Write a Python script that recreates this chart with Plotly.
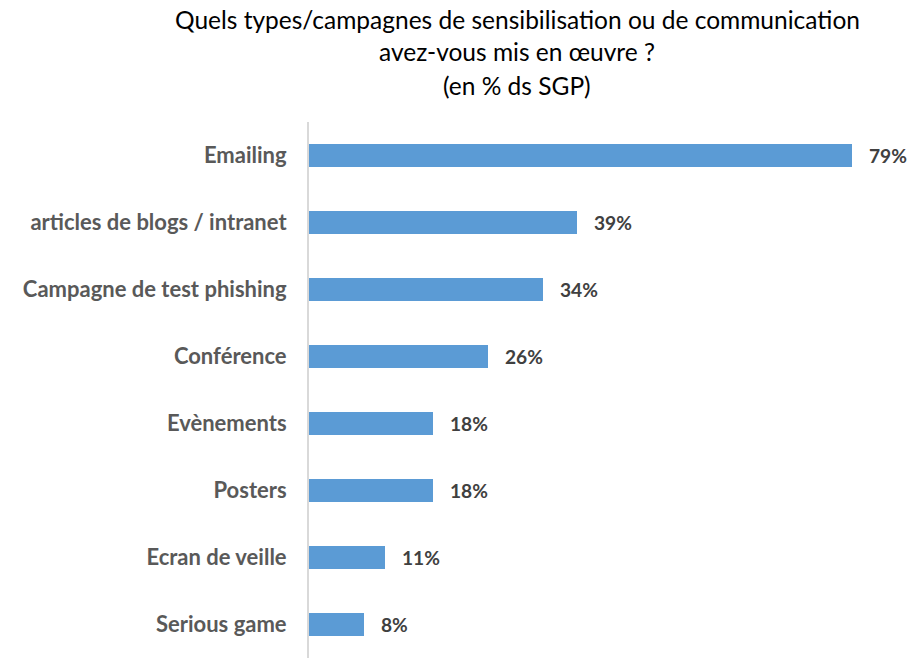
import plotly.graph_objects as go

categories = ["Emailing", "articles de blogs / intranet", "Campagne de test phishing",
              "Conférence", "Evènements", "Posters", "Ecran de veille", "Serious game"]
values = [79, 39, 34, 26, 18, 18, 11, 8]
title_lines = ["Quels types/campagnes de sensibilisation ou de communication",
               "avez-vous mis en œuvre ?",
               "(en % ds SGP)"]

FONT = "Lato"
W, H = 909, 658
L, R, T, B = 309, 9, 122, 0

fig = go.Figure(go.Bar(
    x=values, y=categories, orientation="h",
    marker=dict(color="#5B9BD5", line=dict(width=0)),
    width=0.35,
    texttemplate="\u00a0\u00a0\u00a0%{x}%", textposition="outside",
    textfont=dict(family=FONT, size=20, color="#404040", weight="bold"),
    cliponaxis=False, hoverinfo="skip",
))

fig.update_layout(
    width=W, height=H,
    margin=dict(l=L, r=R, t=T, b=B, pad=0, autoexpand=False),
    paper_bgcolor="white", plot_bgcolor="white",
    showlegend=False,
    bargap=0,
    xaxis=dict(range=[0, (W - L - R) / 6.87], visible=False, fixedrange=True),
    yaxis=dict(autorange="reversed", showline=True, linecolor="#D9D9D9", linewidth=2,
               ticks="", showgrid=False, zeroline=False, fixedrange=True,
               tickfont=dict(family=FONT, size=22, color="#595959", weight="bold"),
               ticklabelstandoff=16),
)

ys = [20, 52, 85]
for line, yy in zip(title_lines, ys):
    fig.add_annotation(text=line, xref="paper", yref="paper",
                       x=(517 - L) / (W - L - R), y=1 + (T - yy) / (H - T - B),
                       xanchor="center", yanchor="middle", showarrow=False,
                       font=dict(family=FONT, size=24.5, color="#000000"))

fig.write_html("out.html", config={"displayModeBar": False},
               post_script="document.body.style.margin='0';")
